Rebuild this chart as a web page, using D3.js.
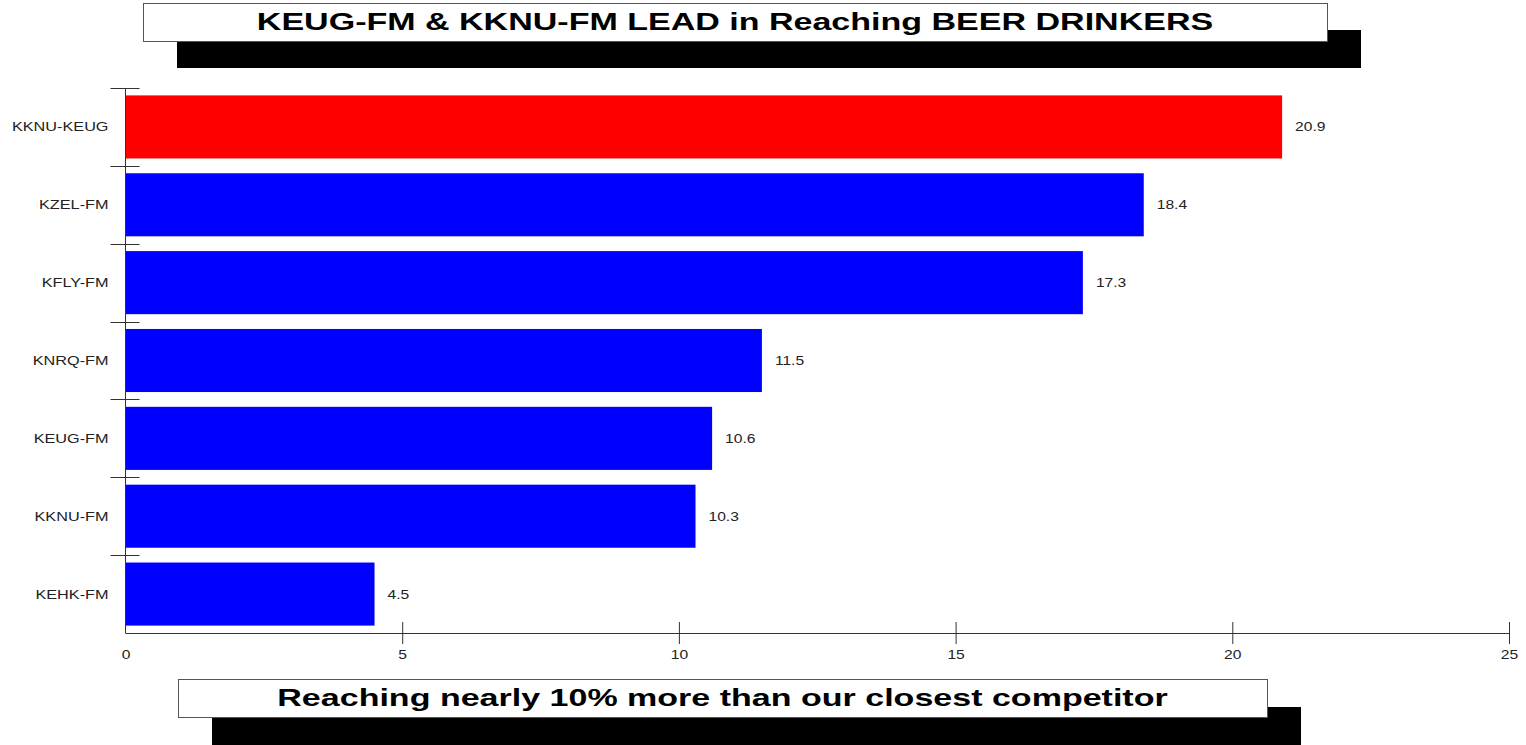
<!DOCTYPE html>
<html>

<head>
  <meta charset="utf-8">
  <style>
    body { margin: 0; background: #fff; }
    text { font-family: "Liberation Sans", Arial, sans-serif; }
  </style>
</head>

<body>
  <script src="https://d3js.org/d3.v7.min.js"></script>
  <script>
    var stations = ["KKNU-KEUG", "KZEL-FM", "KFLY-FM", "KNRQ-FM", "KEUG-FM", "KKNU-FM", "KEHK-FM"];
    var reach = [20.9, 18.4, 17.3, 11.5, 10.6, 10.3, 4.5];
    var highlight = ["KKNU-KEUG"];
    var xTicks = [0, 5, 10, 15, 20, 25];
    var titleText = "KEUG-FM & KKNU-FM LEAD in Reaching BEER DRINKERS";
    var footText = "Reaching nearly 10% more than our closest competitor";

    var data = stations.map(function(d, i) {
      return { name: d, value: reach[i] };
    });

    var width = 1526, height = 745;
    var margin = { top: 88, bottom: 112, left: 125.5, right: 17 };
    var stretch = 1.25;      // the original lettering is drawn wide
    var bannerStretch = 1.48;

    var svg = d3.select("body").append("svg")
      .attr("width", width)
      .attr("height", height);

    var x = d3.scaleLinear()
      .domain([0, 25])
      .range([margin.left, width - margin.right]);

    var y = d3.scaleBand()
      .domain(stations)
      .range([margin.top, height - margin.bottom])
      .paddingInner(0.19)
      .paddingOuter(0.095);

    // boxed banner with a drop shadow
    function banner(x0, y0, w, h, dx, dy, label) {
      var g = svg.append("g");
      g.append("rect")
        .attr("x", x0 + dx).attr("y", y0 + dy)
        .attr("width", w).attr("height", h)
        .attr("fill", "#000");
      g.append("rect")
        .attr("x", x0 + 0.5).attr("y", y0 + 0.5)
        .attr("width", w).attr("height", h)
        .attr("fill", "#fff")
        .attr("stroke", "#555");
      g.append("text")
        .attr("transform", "translate(" + (x0 + w / 2) + "," + (y0 + h / 2 + 7.5) + ") scale(" + bannerStretch + ",1)")
        .attr("text-anchor", "middle")
        .attr("font-weight", "bold")
        .attr("font-size", "23px")
        .attr("fill", "#000")
        .text(label);
    }

    banner(143, 3, 1184, 38, 34, 27, titleText);
    banner(178, 679, 1089, 38, 34, 28, footText);

    // bars
    svg.selectAll(".bar")
      .data(data)
      .enter().append("rect")
      .attr("class", "bar")
      .attr("x", x(0))
      .attr("y", function(d) { return y(d.name); })
      .attr("width", function(d) { return x(d.value) - x(0); })
      .attr("height", y.bandwidth())
      .attr("fill", function(d) {
        return highlight.indexOf(d.name) >= 0 ? "#ff0000" : "#0000ff";
      });

    // value labels
    svg.selectAll(".val")
      .data(data)
      .enter().append("text")
      .attr("class", "val")
      .attr("transform", function(d) {
        return "translate(" + (x(d.value) + 13) + "," + (y(d.name) + y.bandwidth() / 2 + 4.5) + ") scale(" + stretch + ",1)";
      })
      .attr("font-size", "12.5px")
      .attr("fill", "#222")
      .text(function(d) { return d.value.toFixed(1); });

    // x axis
    var xAxis = svg.append("g")
      .attr("transform", "translate(0," + (height - margin.bottom) + ")")
      .call(d3.axisBottom(x).tickValues(xTicks).tickSize(0).tickPadding(0));
    xAxis.select(".domain").attr("stroke", "#333").attr("d", "M" + x(0) + ",0.5H" + x(25));
    xAxis.selectAll(".tick line")
      .attr("y1", function(d) { return d === 0 ? 0 : -11; })
      .attr("y2", function(d) { return d === 0 ? 0 : 11; })
      .attr("stroke", "#333");
    xAxis.selectAll(".tick text")
      .attr("y", 26)
      .attr("dy", 0)
      .attr("transform", "scale(" + stretch + ",1)")
      .attr("font-size", "12.5px")
      .attr("font-family", null)
      .attr("fill", "#222");

    // y axis
    var step = y.step();
    var yAxis = svg.append("g")
      .attr("transform", "translate(" + x(0) + ",0)");
    yAxis.append("line")
      .attr("x1", 0).attr("x2", 0)
      .attr("y1", margin.top).attr("y2", height - margin.bottom)
      .attr("stroke", "#333");
    yAxis.selectAll(".ytick")
      .data(stations)
      .enter().append("line")
      .attr("class", "ytick")
      .attr("x1", -15).attr("x2", 14)
      .attr("y1", function(d) { return Math.round(y(d) - step * 0.095) + 0.5; })
      .attr("y2", function(d) { return Math.round(y(d) - step * 0.095) + 0.5; })
      .attr("stroke", "#333");
    yAxis.selectAll(".ylab")
      .data(stations)
      .enter().append("text")
      .attr("class", "ylab")
      .attr("transform", function(d) {
        return "translate(-17," + (y(d) + y.bandwidth() / 2 + 4.5) + ") scale(" + stretch + ",1)";
      })
      .attr("text-anchor", "end")
      .attr("font-size", "13px")
      .attr("fill", "#222")
      .text(function(d) { return d; });
  </script>
</body>

</html>
